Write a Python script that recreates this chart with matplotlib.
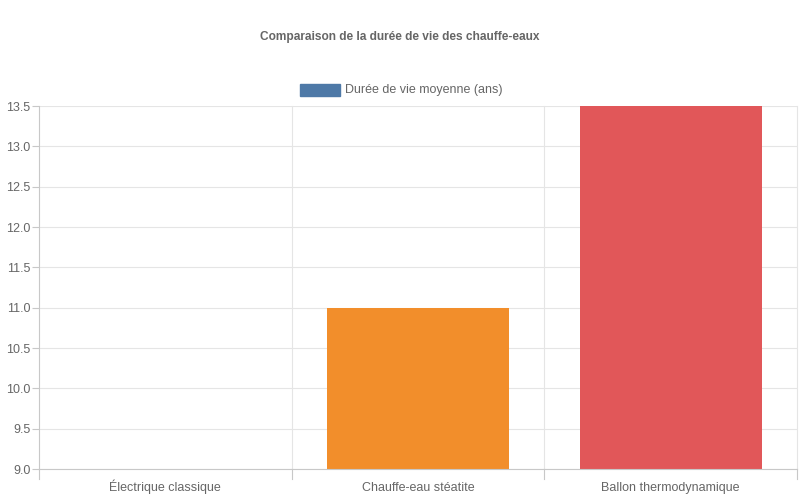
import matplotlib.pyplot as plt
from matplotlib.patches import Rectangle

plt.rcParams['font.family'] = ['Liberation Sans', 'DejaVu Sans']

categories = ['Électrique classique', 'Chauffe-eau stéatite', 'Ballon thermodynamique']
durees = [9, 11, 13.5]
couleurs = ['#4e79a7', '#f28e2b', '#e15759']
serie = 'Durée de vie moyenne (ans)'
titre = 'Comparaison de la durée de vie des chauffe-eaux'

fig = plt.figure(figsize=(8, 5), dpi=100)
ax = fig.add_axes([39/800, 31/500, 758/800, 363/500])

ymin = 9.0
x = range(len(categories))
ax.bar(x, [d - ymin for d in durees], bottom=ymin, width=0.72, color=couleurs)

ax.set_xlim(-0.5, len(categories) - 0.5)
ax.set_ylim(9.0, 13.5)
ax.set_yticks([9.0 + 0.5 * i for i in range(10)])
ax.set_yticklabels([f'{9.0 + 0.5 * i:.1f}' for i in range(10)])
ax.set_xticks(list(x))
ax.set_xticklabels([])

# grille : lignes horizontales aux graduations, verticales aux limites de catégories
for yv in ax.get_yticks():
    ax.axhline(yv, color='#e5e5e5', lw=0.8, zorder=0)
for xv in [0.5, 1.5, 2.5]:
    ax.axvline(xv, color='#e5e5e5', lw=0.8, zorder=0, clip_on=False)
ax.set_axisbelow(True)

for s in ['top', 'right']:
    ax.spines[s].set_visible(False)
for s in ['left', 'bottom']:
    ax.spines[s].set_color('#c8c8c8')
    ax.spines[s].set_linewidth(0.8)

ax.tick_params(axis='y', length=5, color='#c8c8c8', labelsize=9, labelcolor='#666666', pad=1)
ax.tick_params(axis='x', length=0)
# petits traits sous l'axe x aux limites de catégories
for xv in [-0.5, 0.5, 1.5, 2.5]:
    ax.plot([xv, xv], [0, -10/363], transform=ax.get_xaxis_transform(),
            color='#c8c8c8', lw=0.8, clip_on=False)
for xi, cat in zip(x, categories):
    ax.text(xi, -22/363, cat, transform=ax.get_xaxis_transform(), ha='center',
            va='baseline', fontsize=9, color='#666666')

fig.text(0.5, 1 - 37/500, titre, ha='center', va='center', fontsize=8.6,
         fontweight='bold', color='#666666')
fig.patches.append(Rectangle((300/800, 1 - 96/500), 40/800, 12/500,
                             transform=fig.transFigure, color=couleurs[0]))
fig.text(345/800, 1 - 90/500, serie, ha='left', va='center', fontsize=9, color='#666666')

fig.savefig('out.png', dpi=100)
